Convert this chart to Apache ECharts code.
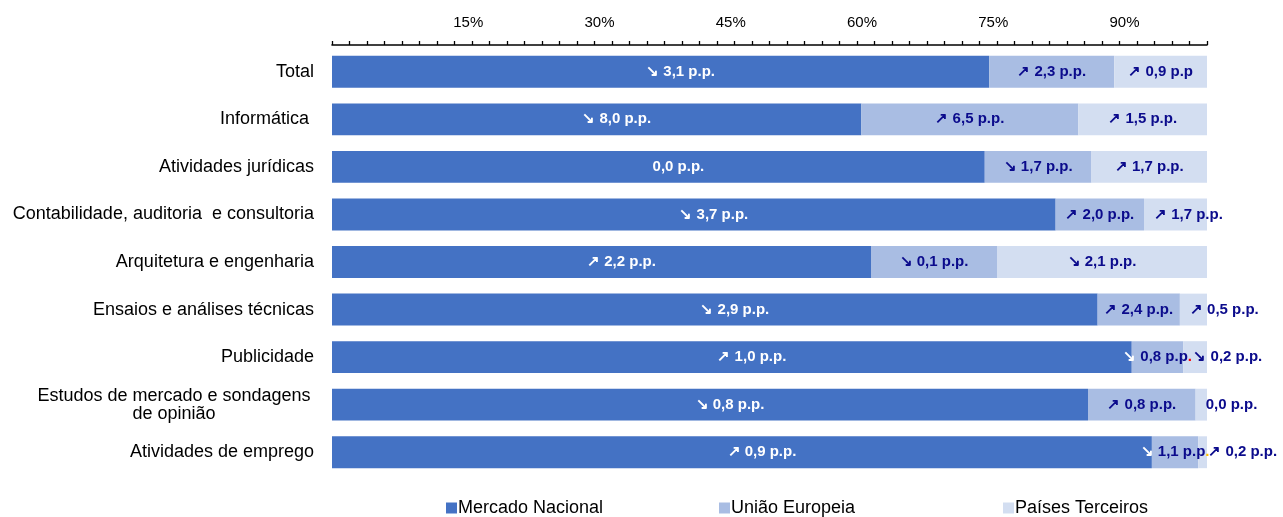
<!DOCTYPE html>
<html>
<head>
<meta charset="utf-8">
<script src="https://cdn.jsdelivr.net/npm/echarts@6/dist/echarts.min.js"></script>
<style>
html,body{margin:0;padding:0;background:#fff;}
#chart{width:1283px;height:517px;}
</style>
</head>
<body>
<div id="chart"></div>
<script>
const categories = ['Total','Informática ','Atividades jurídicas','Contabilidade, auditoria  e consultoria','Arquitetura e engenharia','Ensaios e análises técnicas','Publicidade','Estudos de mercado e sondagens\nde opinião','Atividades de emprego'];
const seriesNames = ['Mercado Nacional','União Europeia','Países Terceiros'];
const nacional = [75.1, 60.5, 74.6, 82.7, 61.6, 87.5, 91.4, 86.4, 93.7];
const europeia = [14.3, 24.8, 12.2, 10.1, 14.4, 9.4, 5.9, 12.3, 5.3];
const terceiros = [10.6, 14.7, 13.2, 7.2, 24.0, 3.1, 2.7, 1.3, 1.0];
const nacionalLabels = ['↘ 3,1 p.p.','↘ 8,0 p.p.','0,0 p.p.','↘ 3,7 p.p.','↗ 2,2 p.p.','↘ 2,9 p.p.','↗ 1,0 p.p.','↘ 0,8 p.p.','↗ 0,9 p.p.'];
const europeiaLabels = ['↗ 2,3 p.p.','↗ 6,5 p.p.','↘ 1,7 p.p.','↗ 2,0 p.p.','↘ 0,1 p.p.','↗ 2,4 p.p.','↘ 0,8 p.p.','↗ 0,8 p.p.','↘ 1,1 p.p.'];
const terceirosLabels = ['↗ 0,9 p.p','↗ 1,5 p.p.','↗ 1,7 p.p.','↗ 1,7 p.p.','↘ 2,1 p.p.','↗ 0,5 p.p.','↘ 0,2 p.p.','0,0 p.p.','↗ 0,2 p.p.'];
const tickLabels = [15, 30, 45, 60, 75, 90];

const colors = ['#4472C4', '#A9BDE3', '#D3DEF1'];
const navy = '#0B0B8C';
const font = 'Liberation Sans, Arial, sans-serif';
const labelFont = {fontFamily: font, fontSize: 15, fontWeight: 'bold'};
// final full stop of two labels is coloured in the original
const lastDotColor = {6: '#FF0000', 8: '#FFC000'};

function splitArrow(s) {
  const c = s.charAt(0);
  if (c === '↘' || c === '↗') return [c, s.slice(1)];
  return ['', s];
}

const chart = echarts.init(document.getElementById('chart'), null, {renderer: 'canvas'});

const nacData = nacional.map(v => ({value: v}));
const ueData = europeia.map((v, i) => {
  const white = v < 7;
  const dot = lastDotColor[i];
  return {
    value: v,
    label: (white || dot) ? {
      formatter: () => {
        const p = splitArrow(europeiaLabels[i]);
        let head = white ? '{w|' + p[0] + '}' : p[0];
        let body = p[1];
        if (dot) {
          body = body.slice(0, -1) + '{d' + i + '|.}';
        }
        return head + body;
      }
    } : {}
  };
});
const ptData = terceiros.map(v => {
  const outside = v < 8;
  return {
    value: v,
    label: outside ? {position: 'insideLeft', distance: 10} : {}
  };
});

const ueRich = {w: Object.assign({color: '#fff'}, labelFont)};
Object.keys(lastDotColor).forEach(k => { ueRich['d' + k] = Object.assign({color: lastDotColor[k]}, labelFont); });

const option = {
  animation: false,
  backgroundColor: '#fff',
  grid: {left: 332, right: 76, top: 48, bottom: 41, containLabel: false},
  xAxis: [
    {
      type: 'value', position: 'top', min: 0, max: 100, interval: 2, offset: 3,
      axisLine: {show: true, lineStyle: {color: '#000', width: 1.6}},
      axisTick: {show: true, length: 4, lineStyle: {color: '#000', width: 1.3}},
      axisLabel: {show: false},
      splitLine: {show: false}
    },
    {
      type: 'value', position: 'top', min: 0, max: 100, interval: 15, offset: 3,
      axisLine: {show: false}, axisTick: {show: false}, splitLine: {show: false},
      axisLabel: {
        show: true, margin: 15, color: '#000', fontSize: 15,
        fontFamily: font, padding: [0, 0, 0, 10],
        formatter: v => tickLabels.indexOf(v) >= 0 ? v + '%' : ''
      }
    }
  ],
  yAxis: {
    type: 'category', data: categories, inverse: true,
    axisLine: {show: false}, axisTick: {show: false},
    axisLabel: {
      color: '#000', fontSize: 18, margin: 18, lineHeight: 18,
      fontFamily: font,
      formatter: v => {
        if (v.indexOf('\n') >= 0) {
          return v.split('\n').map(l => '{c|' + l + '}').join('\n');
        }
        return v;
      },
      rich: {c: {width: 280, align: 'center', fontSize: 18, lineHeight: 18, color: '#000', fontFamily: font}}
    }
  },
  legend: [0, 1, 2].map((k, idx) => ({
    data: [seriesNames[k]], left: [446, 719, 1003][idx], top: 499,
    itemWidth: 11, itemHeight: 11, icon: 'rect', padding: 0,
    textStyle: {color: '#000', fontSize: 18, padding: [0, 0, 4, -4], fontFamily: font}
  })),
  series: [
    {
      name: seriesNames[0], type: 'bar', stack: 'total', xAxisIndex: 0, data: nacData,
      barCategoryGap: '33%', itemStyle: {color: colors[0]},
      label: Object.assign({show: true, position: 'inside', color: '#fff', offset: [20, 0],
        formatter: p => nacionalLabels[p.dataIndex]}, labelFont)
    },
    {
      name: seriesNames[1], type: 'bar', stack: 'total', xAxisIndex: 0, data: ueData,
      barCategoryGap: '33%', itemStyle: {color: colors[1]},
      label: Object.assign({show: true, position: 'inside', color: navy,
        formatter: p => europeiaLabels[p.dataIndex], rich: ueRich}, labelFont)
    },
    {
      name: seriesNames[2], type: 'bar', stack: 'total', xAxisIndex: 0, data: ptData,
      barCategoryGap: '33%', itemStyle: {color: colors[2]},
      label: Object.assign({show: true, position: 'inside', color: navy,
        formatter: p => terceirosLabels[p.dataIndex]}, labelFont)
    }
  ]
};
chart.setOption(option);
</script>
</body>
</html>
